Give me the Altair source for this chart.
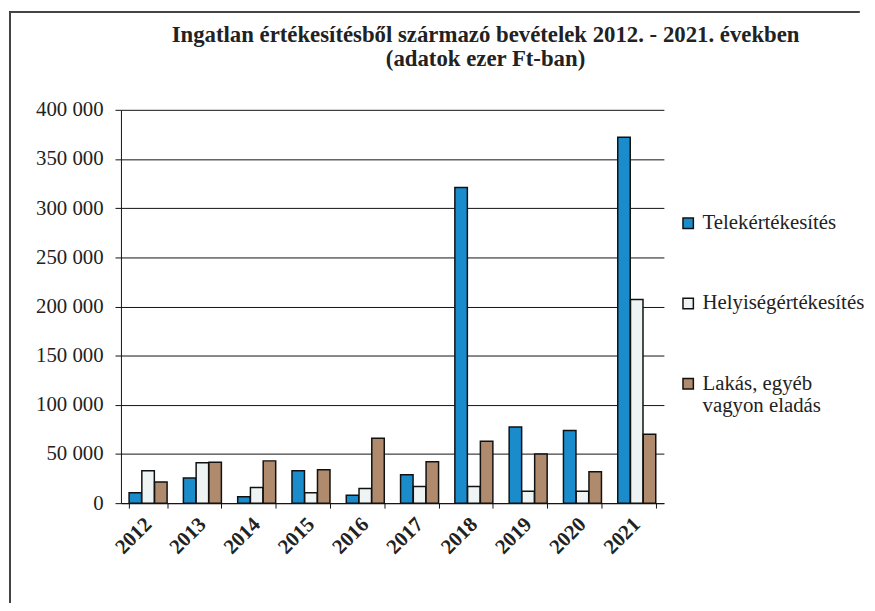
import altair as alt
import pandas as pd

years = ["2012", "2013", "2014", "2015", "2016", "2017", "2018", "2019", "2020", "2021"]
series = ["Telekértékesítés", "Helyiségértékesítés", "Lakás, egyéb vagyon eladás"]
tel = [10500, 25500, 6500, 33000, 8000, 29000, 321000, 77500, 74000, 372000]
hely = [33000, 41000, 16000, 10500, 15000, 17000, 17000, 12000, 12000, 207000]
lakas = [21500, 41500, 43000, 34000, 66000, 42000, 63000, 50000, 32000, 70000]
colors = ["#1a8ccc", "#eef4f4", "#b08a6c"]
y_ticks = [0, 50000, 100000, 150000, 200000, 250000, 300000, 350000, 400000]

rows = []
for i, y in enumerate(years):
    for s, vals in zip(series, [tel, hely, lakas]):
        rows.append({"ev": y, "sorozat": s, "ertek": vals[i], "rend": series.index(s)})
df = pd.DataFrame(rows)

FONT = "Liberation Serif"

bars = alt.Chart(df).mark_bar(stroke="#111", strokeWidth=1.5).encode(
    x=alt.X("ev:N", sort=years, title=None,
            scale=alt.Scale(paddingInner=0.3, paddingOuter=0.15),
            axis=alt.Axis(labelAngle=-45, labelFont=FONT, labelFontWeight="bold",
                          labelFontSize=21, labelColor="#222", labelAlign="right",
                          labelBaseline="middle", labelPadding=13,
                          tickBand="extent", domainColor="#111", tickColor="#111",
                          tickSize=5, grid=False)),
    xOffset=alt.XOffset("sorozat:N", sort=series, scale=alt.Scale(paddingInner=0.02)),
    y=alt.Y("ertek:Q", title=None,
            scale=alt.Scale(domain=[0, 400000], nice=False),
            axis=alt.Axis(values=y_ticks, labelFont=FONT, labelFontSize=21,
                          labelColor="#222", labelPadding=12, tickSize=6,
                          tickColor="#111", domainColor="#111",
                          gridColor="#111", gridWidth=1,
                          labelExpr="replace(format(datum.value, ',d'), regexp(',', 'g'), ' ')")),
    color=alt.Color("sorozat:N", sort=series,
                    scale=alt.Scale(domain=series, range=colors),
                    legend=alt.Legend(title=None, orient="none", legendX=562, legendY=104,
                                      labelFont=FONT, labelFontSize=21, labelColor="#222",
                                      symbolType="square", symbolSize=110,
                                      symbolStrokeColor="#111", symbolStrokeWidth=1.5,
                                      rowPadding=59, labelLimit=300, labelOffset=4,
                                      labelExpr="datum.label == 'Lakás, egyéb vagyon eladás' ? ['Lakás, egyéb', 'vagyon eladás'] : datum.label")),
    order=alt.Order("rend:Q"),
)

frame_left = alt.Chart(df).mark_rule(color="#444", strokeWidth=1.5).encode(
    x=alt.value(-112), y=alt.value(-99), y2=alt.value(505))
frame_top = alt.Chart(df).mark_rule(color="#444", strokeWidth=1.5).encode(
    x=alt.value(-112), x2=alt.value(745), y=alt.value(-99))

chart = alt.layer(bars, frame_left, frame_top).properties(
    width=548, height=397,
    title=alt.Title(["Ingatlan értékesítésből származó bevételek 2012. - 2021. években",
                     "(adatok ezer Ft-ban)"],
                    font=FONT, fontSize=23, fontWeight="bold", color="#222",
                    anchor="middle", dx=94, offset=-61, lineHeight=25),
    autosize=alt.AutoSizeParams(type="none"),
    padding={"left": 114, "top": 100, "right": 205, "bottom": 98},
).configure(font=FONT).configure_view(stroke=None)

chart.save("out.html", embed_options={"renderer": "svg", "actions": False})
